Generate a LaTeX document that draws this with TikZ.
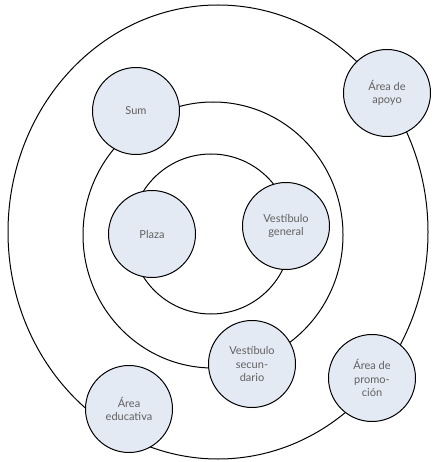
\documentclass[tikz,border=0pt]{standalone}
\usepackage{fontspec}
\setmainfont{Lato}
\usepackage{tikz}
\usetikzlibrary{positioning}
\definecolor{zonefill}{HTML}{E4EAF4}
\definecolor{zonetext}{HTML}{606060}
\tikzset{
  zona/.style={draw, circle, line width=1pt, fill=zonefill, minimum size=87pt, inner sep=1pt, align=center, font=\fontsize{11}{13.5}\selectfont, text=zonetext},
  anillo/.style={draw, line width=1pt}
}

\begin{document}
\begin{tikzpicture}[x=1pt,y=-1pt]
  \useasboundingbox (0,0) rectangle (434,462);
  % anillos
  \draw[anillo] (218,232) ellipse [x radius=210, y radius=227];
  \draw[anillo] (213,235) ellipse [x radius=130, y radius=133];
  \draw[anillo] (211,234) circle [radius=80];

  % espacios
  \node[zona] (sum) at (136,111) {Sum};
  \node[zona] (apoyo) at (387,93) {Área de\\apoyo};
  \node[zona] (plaza) at (152,234) {Plaza};
  \node[zona] (vgeneral) at (286,226) {Vestíbulo\\general};
  \node[zona] (vsecundario) at (252,364) {Vestíbulo\\secun-\\dario};
  \node[zona] (promocion) at (372,378) {Área de\\promo-\\ción};
  \node[zona] (educativa) at (129,409) {Área\\educativa};
\end{tikzpicture}
\end{document}
